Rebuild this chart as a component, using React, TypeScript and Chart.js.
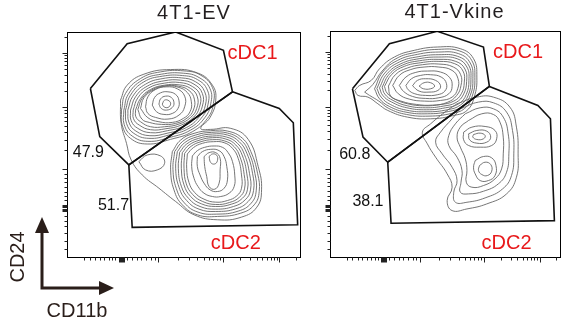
import React, { useEffect, useRef } from "react";
import { Chart, registerables } from "chart.js";
Chart.register(...registerables);

type P = [number, number];

// ---------- text ----------
const panelTitles = ["4T1-EV", "4T1-Vkine"];
const gateNames = ["cDC1", "cDC2"];
const evPercents = ["47.9", "51.7"];
const vkPercents = ["60.8", "38.1"];
const yAxisName = "CD24";
const xAxisName = "CD11b";

// ---------- axis ticks (display channel units) ----------
const xMajorTicks = [175, 178, 181, 184, 187, 190, 293, 487, 655];
const xMinorTicks = [70, 88, 104, 118, 132, 145, 156, 165, 200, 214, 228, 242, 256, 270, 282, 351, 385, 410, 429, 444, 457, 468, 478, 538, 567, 588, 604, 618, 629, 639, 647, 706];
const yMajorTicks = [617, 453, 268, 140, 144, 148, 152, 156, 160];
const yMinorTicks = [666, 610, 601, 592, 581, 568, 552, 531, 502, 444, 435, 424, 412, 397, 379, 356, 324, 253, 240, 228, 215, 200, 186, 174, 127, 111, 96, 76, 51, 28];

// ---------- 4T1-EV ----------
const evGateCDC1: P[] = [[90, 510], [200, 645], [345, 680], [488, 625], [515, 500], [205, 280], [118, 365], [90, 510]];
const evGateCDC2: P[] = [[515, 500], [655, 450], [697, 407], [710, 100], [215, 92], [205, 280], [515, 500]];
const evLabelPos: P[] = [[575, 615], [525, 45], [84, 318], [159, 157]];

const evContours: P[][] = [
  // envelope around both populations
  [[180, 475], [200, 520], [250, 553], [330, 567], [410, 557], [455, 520], [465, 475], [448, 423], [420, 390], [450, 387], [510, 390], [562, 357], [592, 275], [602, 205], [588, 153], [542, 123], [470, 115], [400, 130], [345, 170], [295, 210], [245, 250], [212, 295], [198, 345], [182, 405]],
  // cDC1
  [[183, 445], [195, 495], [240, 540], [300, 560], [370, 563], [420, 550], [455, 513], [458, 465], [440, 420], [395, 380], [330, 357], [260, 343], [210, 360], [185, 400]],
  [[190, 445], [203, 492], [245, 535], [302, 553], [368, 556], [415, 543], [448, 509], [450, 464], [432, 422], [390, 385], [328, 363], [262, 351], [215, 367], [191, 402]],
  [[195, 445], [210, 490], [250, 530], [305, 547], [365, 549], [410, 537], [440, 505], [442, 463], [425, 425], [385, 390], [325, 370], [265, 360], [220, 375], [198, 405]],
  [[202, 445], [217, 487], [255, 523], [307, 540], [362, 542], [405, 530], [432, 500], [434, 460], [416, 425], [378, 393], [322, 376], [268, 368], [226, 382], [205, 409]],
  [[210, 445], [225, 485], [260, 517], [310, 533], [360, 535], [400, 523], [425, 495], [425, 457], [408, 425], [370, 397], [320, 383], [270, 377], [232, 390], [212, 413]],
  [[218, 445], [232, 482], [265, 512], [311, 526], [357, 528], [395, 516], [418, 490], [416, 453], [399, 424], [362, 400], [316, 389], [270, 386], [236, 400], [219, 419]],
  [[225, 445], [240, 480], [270, 507], [312, 520], [355, 521], [390, 510], [410, 485], [408, 450], [390, 423], [355, 403], [312, 395], [270, 395], [240, 410], [226, 425]],
  [[232, 447], [245, 481], [274, 506], [313, 518], [353, 517], [385, 504], [401, 478], [398, 445], [379, 421], [345, 405], [303, 402], [266, 408], [244, 418]],
  [[240, 450], [250, 482], [278, 505], [315, 517], [352, 514], [380, 498], [392, 470], [388, 440], [368, 420], [335, 408], [295, 410], [262, 422]],
  [[255, 455], [262, 485], [285, 507], [318, 515], [350, 509], [372, 487], [372, 455], [355, 430], [322, 418], [285, 423], [262, 435]],
  [[275, 460], [282, 483], [300, 497], [322, 500], [345, 492], [355, 473], [352, 450], [335, 435], [310, 432], [288, 440]],
  [[295, 463], [300, 479], [315, 487], [332, 483], [340, 467], [335, 453], [318, 445], [302, 450]],
  [[305, 463], [312, 475], [325, 473], [330, 463], [322, 453], [310, 455]],
  // small lobe between populations
  [[235, 290], [260, 310], [300, 307], [312, 285], [290, 265], [255, 265]],
  // cDC2
  [[335, 320], [360, 355], [400, 375], [450, 383], [500, 382], [545, 360], [570, 320], [590, 255], [595, 200], [580, 160], [540, 135], [470, 125], [410, 130], [365, 160], [340, 205], [330, 265]],
  [[342, 320], [366, 351], [405, 370], [452, 378], [500, 376], [540, 355], [564, 318], [582, 255], [586, 202], [571, 165], [532, 141], [468, 132], [412, 138], [371, 166], [347, 209], [337, 267]],
  [[350, 320], [372, 347], [410, 365], [455, 373], [500, 370], [535, 350], [558, 315], [575, 255], [578, 203], [562, 170], [525, 148], [465, 140], [415, 147], [378, 173], [355, 213], [345, 270]],
  [[357, 318], [378, 343], [414, 360], [455, 367], [497, 364], [530, 345], [551, 311], [566, 254], [569, 205], [553, 175], [518, 155], [465, 147], [418, 155], [384, 179], [362, 216], [353, 270]],
  [[365, 317], [385, 340], [418, 355], [455, 362], [495, 358], [525, 340], [545, 307], [558, 253], [560, 207], [545, 180], [512, 162], [465, 155], [422, 163], [390, 185], [370, 220], [362, 270]],
  [[372, 315], [391, 336], [421, 350], [456, 356], [492, 352], [520, 335], [538, 303], [550, 251], [551, 208], [536, 183], [506, 167], [465, 161], [426, 170], [396, 191], [377, 223], [370, 270]],
  [[380, 313], [398, 332], [425, 345], [458, 350], [490, 347], [515, 330], [532, 300], [542, 250], [542, 210], [528, 187], [500, 173], [465, 168], [430, 177], [402, 197], [385, 227], [378, 270]],
  [[395, 307], [410, 323], [432, 333], [460, 337], [485, 333], [502, 317], [515, 290], [522, 247], [520, 215], [505, 195], [480, 185], [455, 185], [430, 195], [412, 215], [400, 240], [393, 275]],
  [[410, 305], [425, 320], [450, 327], [475, 323], [490, 305], [498, 275], [500, 235], [490, 210], [470, 200], [448, 205], [430, 225], [418, 250], [410, 275]],
  [[430, 305], [445, 317], [465, 317], [478, 300], [478, 265], [475, 225], [462, 207], [445, 215], [438, 245], [432, 275]],
  [[445, 305], [455, 313], [468, 309], [470, 293], [462, 283], [450, 287]],
];

// ---------- 4T1-Vkine ----------
const vkGateCDC1: P[] = [[88, 507], [200, 642], [345, 679], [485, 632], [503, 514], [195, 287], [120, 362], [88, 507]];
const vkGateCDC2: P[] = [[503, 514], [650, 457], [688, 417], [700, 112], [205, 104], [195, 287], [503, 514]];
const vkLabelPos: P[] = [[590, 615], [555, 44], [95, 310], [135, 169]];

const vkContours: P[][] = [
  // cDC1
  [[95, 502], [110, 517], [145, 532], [170, 567], [215, 602], [275, 622], [345, 632], [415, 627], [455, 597], [465, 542], [457, 482], [435, 442], [395, 427], [325, 417], [255, 422], [195, 442], [165, 462], [135, 482], [105, 487]],
  [[125, 497], [150, 520], [178, 560], [220, 597], [280, 616], [348, 625], [413, 620], [450, 591], [459, 540], [451, 485], [428, 448], [388, 433], [320, 425], [252, 430], [198, 448], [168, 470], [140, 487]],
  [[155, 507], [180, 557], [225, 592], [285, 610], [350, 617], [410, 612], [445, 584], [453, 537], [445, 487], [420, 454], [380, 439], [315, 432], [250, 437], [200, 454], [170, 477]],
  [[162, 508], [186, 554], [230, 587], [287, 603], [350, 609], [407, 604], [440, 578], [447, 534], [439, 488], [415, 458], [375, 444], [314, 438], [251, 443], [203, 460], [175, 482]],
  [[170, 510], [193, 552], [235, 582], [290, 597], [350, 602], [405, 597], [435, 572], [441, 532], [433, 490], [410, 462], [370, 450], [313, 444], [253, 450], [207, 467], [180, 487]],
  [[178, 512], [200, 551], [240, 578], [292, 591], [350, 595], [401, 589], [429, 566], [434, 529], [425, 491], [402, 466], [363, 455], [309, 450], [254, 456], [211, 472], [186, 491]],
  [[185, 514], [207, 550], [245, 574], [295, 585], [350, 589], [398, 582], [423, 560], [427, 527], [418, 492], [395, 470], [357, 460], [305, 456], [255, 462], [215, 477], [193, 494]],
  [[197, 515], [218, 549], [254, 569], [300, 579], [350, 581], [394, 572], [416, 549], [417, 517], [404, 487], [375, 466], [331, 458], [282, 460], [235, 470], [204, 485]],
  [[210, 517], [230, 547], [263, 564], [305, 572], [350, 572], [390, 562], [408, 537], [407, 507], [390, 482], [355, 472], [307, 470], [260, 476], [227, 492]],
  [[230, 517], [250, 542], [280, 556], [315, 560], [355, 557], [383, 540], [390, 514], [380, 492], [350, 480], [310, 478], [270, 484], [243, 499]],
  [[250, 517], [267, 537], [295, 547], [325, 549], [357, 542], [373, 522], [368, 500], [345, 489], [310, 487], [277, 492], [257, 504]],
  [[270, 516], [285, 532], [310, 537], [340, 532], [355, 516], [347, 502], [320, 497], [290, 500]],
  [[290, 515], [305, 525], [325, 525], [337, 515], [325, 507], [303, 507]],
  // cDC2
  [[405, 462], [465, 482], [515, 482], [565, 452], [585, 392], [590, 312], [585, 242], [555, 192], [495, 162], [435, 147], [390, 142], [375, 172], [390, 212], [375, 252], [340, 302], [315, 342], [300, 377], [325, 402], [375, 442]],
  [[415, 447], [470, 467], [515, 465], [555, 437], [573, 382], [577, 312], [570, 247], [543, 207], [490, 180], [435, 167], [400, 167], [395, 197], [405, 232], [390, 272], [360, 312], [340, 347], [355, 377], [390, 417]],
  [[430, 432], [475, 450], [515, 447], [545, 422], [560, 372], [562, 312], [555, 257], [530, 222], [485, 200], [440, 192], [415, 197], [417, 227], [420, 262], [405, 302], [380, 337], [380, 367], [400, 402]],
  [[440, 412], [480, 432], [515, 430], [535, 407], [545, 362], [545, 312], [540, 267], [520, 237], [485, 217], [450, 212], [433, 227], [435, 262], [430, 297], [415, 332], [405, 362], [415, 392]],
  [[425, 377], [450, 392], [490, 394], [520, 382], [525, 357], [510, 337], [475, 332], [440, 337], [425, 354]],
  [[440, 372], [465, 382], [495, 380], [507, 362], [495, 347], [465, 344], [443, 354]],
  [[455, 370], [475, 374], [490, 367], [485, 357], [465, 355], [453, 362]],
  [[460, 292], [485, 304], [510, 300], [523, 277], [520, 247], [500, 232], [475, 232], [460, 252], [455, 272]],
  [[473, 277], [490, 287], [507, 280], [510, 260], [497, 247], [480, 250], [470, 262]],
];

// ---------- helpers ----------
const FONT = "'Liberation Sans', Arial, Helvetica, sans-serif";
const toXY = (pts: P[]) => pts.map(([x, y]) => ({ x, y }));
const closeLoop = (pts: P[]) => [...pts, pts[0]];

interface PanelSpec {
  title: string;
  gates: P[][];
  contours: P[][];
  percents: string[];
  labelPos: P[];
  padding: { left: number; right: number; top: number; bottom: number };
  titleShift: number;
  drawAxisKey: boolean;
}

function makePlugin(spec: PanelSpec) {
  return {
    id: "flowDecor",
    afterDraw(chart: any) {
      const { ctx, chartArea: a, scales } = chart;
      const xs = scales.x;
      const ys = scales.y;
      ctx.save();
      // frame
      ctx.strokeStyle = "#000";
      ctx.lineWidth = 1;
      ctx.strokeRect(Math.round(a.left) + 0.5, Math.round(a.top) + 0.5, Math.round(a.right - a.left) - 1, Math.round(a.bottom - a.top) - 1);
      // ticks
      ctx.strokeStyle = "#222";
      const left = Math.round(a.left) + 0.5;
      const bottom = Math.round(a.bottom) - 0.5;
      ctx.beginPath();
      yMajorTicks.forEach((v) => {
        const py = Math.round(ys.getPixelForValue(v)) + 0.5;
        ctx.moveTo(left, py);
        ctx.lineTo(left - 5, py);
      });
      yMinorTicks.forEach((v) => {
        const py = Math.round(ys.getPixelForValue(v)) + 0.5;
        ctx.moveTo(left, py);
        ctx.lineTo(left - 3, py);
      });
      xMajorTicks.forEach((v) => {
        const px = Math.round(xs.getPixelForValue(v)) + 0.5;
        ctx.moveTo(px, bottom);
        ctx.lineTo(px, bottom + 5);
      });
      xMinorTicks.forEach((v) => {
        const px = Math.round(xs.getPixelForValue(v)) + 0.5;
        ctx.moveTo(px, bottom);
        ctx.lineTo(px, bottom + 3);
      });
      ctx.stroke();

      // title
      ctx.fillStyle = "#231f20";
      ctx.font = `20px ${FONT}`;
      ctx.textAlign = "center";
      ctx.textBaseline = "middle";
      (ctx as any).letterSpacing = "1px";
      ctx.fillText(spec.title, (a.left + a.right) / 2 + spec.titleShift, a.top - 19);
      (ctx as any).letterSpacing = "0px";

      // gate names
      ctx.fillStyle = "#e8191b";
      ctx.font = `20px ${FONT}`;
      ctx.fillText(gateNames[0], xs.getPixelForValue(spec.labelPos[0][0]), ys.getPixelForValue(spec.labelPos[0][1]));
      ctx.fillText(gateNames[1], xs.getPixelForValue(spec.labelPos[1][0]), ys.getPixelForValue(spec.labelPos[1][1]));
      // percentages
      ctx.fillStyle = "#111";
      ctx.font = `16px ${FONT}`;
      ctx.fillText(spec.percents[0], xs.getPixelForValue(spec.labelPos[2][0]), ys.getPixelForValue(spec.labelPos[2][1]));
      ctx.fillText(spec.percents[1], xs.getPixelForValue(spec.labelPos[3][0]), ys.getPixelForValue(spec.labelPos[3][1]));

      if (spec.drawAxisKey) {
        const c = "#2a1e1a";
        ctx.strokeStyle = c;
        ctx.fillStyle = c;
        ctx.lineWidth = 3;
        ctx.beginPath();
        ctx.moveTo(42, 230);
        ctx.lineTo(42, 288);
        ctx.lineTo(102, 288);
        ctx.stroke();
        ctx.beginPath();
        ctx.moveTo(42, 217);
        ctx.lineTo(35, 233);
        ctx.lineTo(49, 233);
        ctx.closePath();
        ctx.fill();
        ctx.beginPath();
        ctx.moveTo(114, 288);
        ctx.lineTo(99, 281);
        ctx.lineTo(99, 295);
        ctx.closePath();
        ctx.fill();
        ctx.font = `20px ${FONT}`;
        ctx.fillText(xAxisName, 77, 311);
        ctx.save();
        ctx.translate(18, 257);
        ctx.rotate(-Math.PI / 2);
        ctx.fillText(yAxisName, 0, 0);
        ctx.restore();
      }
      ctx.restore();
    },
  };
}

function Panel({ spec, left, width }: { spec: PanelSpec; left: number; width: number }) {
  const ref = useRef<HTMLCanvasElement | null>(null);
  useEffect(() => {
    if (!ref.current) return;
    const datasets: any[] = [];
    spec.gates.forEach((g) =>
      datasets.push({ data: toXY(g), showLine: true, borderColor: "#111", borderWidth: 1.6, pointRadius: 0, tension: 0, order: 0, fill: false })
    );
    spec.contours.forEach((c) =>
      datasets.push({ data: toXY(closeLoop(c)), showLine: true, borderColor: "#666666", borderWidth: 0.9, pointRadius: 0, tension: 0.45, order: 1, fill: false })
    );
    const chart = new Chart(ref.current, {
      type: "scatter",
      data: { datasets },
      options: {
        responsive: false,
        animation: false,
        events: [],
        layout: { padding: spec.padding },
        plugins: { legend: { display: false }, tooltip: { enabled: false } },
        scales: {
          x: { type: "linear", min: 20, max: 720, display: false },
          y: { type: "linear", min: 0, max: 680, display: false },
        },
      },
      plugins: [makePlugin(spec)],
    } as any);
    return () => chart.destroy();
  }, [spec]);
  return <canvas ref={ref} width={width} height={328} style={{ position: "absolute", left, top: 0, width, height: 328 }} />;
}

const evSpec: PanelSpec = {
  title: panelTitles[0],
  gates: [evGateCDC1, evGateCDC2],
  contours: evContours,
  percents: evPercents,
  labelPos: evLabelPos,
  padding: { left: 67, right: 9, top: 32, bottom: 70 },
  titleShift: 10,
  drawAxisKey: true,
};
const vkSpec: PanelSpec = {
  title: panelTitles[1],
  gates: [vkGateCDC1, vkGateCDC2],
  contours: vkContours,
  percents: vkPercents,
  labelPos: vkLabelPos,
  padding: { left: 20, right: 12, top: 31, bottom: 70 },
  titleShift: 9,
  drawAxisKey: false,
};

export default function App() {
  return (
    <div style={{ position: "absolute", left: 0, top: 0, width: 573, height: 328, background: "#fff", overflow: "hidden" }}>
      <Panel spec={evSpec} left={0} width={310} />
      <Panel spec={vkSpec} left={310} width={263} />
    </div>
  );
}
